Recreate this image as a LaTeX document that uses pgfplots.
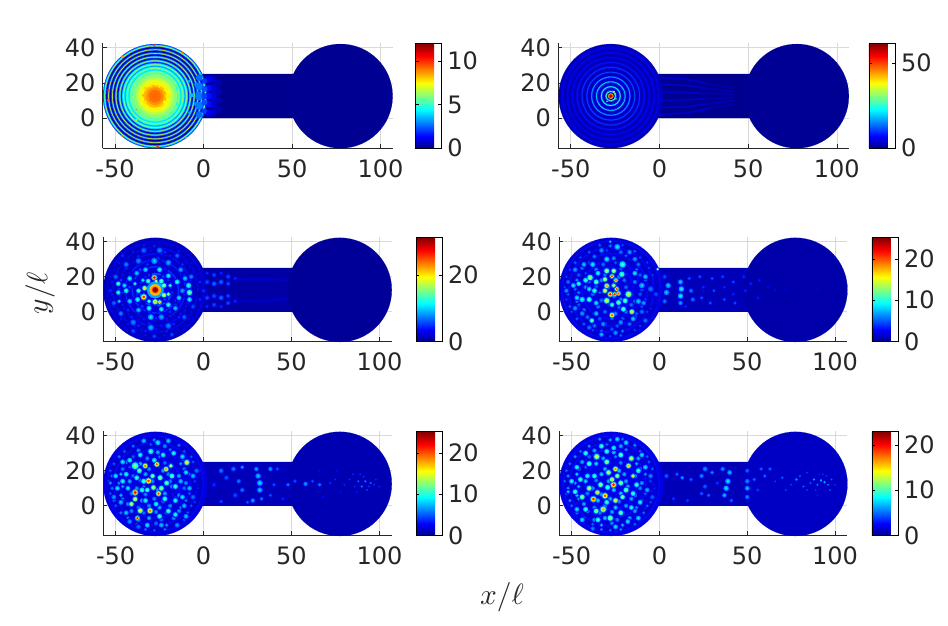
\documentclass[border=0pt]{standalone}
\usepackage{fontspec}
\setmainfont{DejaVu Sans}
\usepackage{pgfplots}
\usepackage{pgfplotstable}
\usetikzlibrary{calc}
\pgfplotsset{compat=1.18}
\pgfplotsset{/pgf/number format/assume math mode=true}
\definecolor{tk}{gray}{0.15}
\newcommand{\tkf}{\fontsize{18}{21}\selectfont}
\pgfplotsset{
 colormap={mjet}{rgb255(0pt)=(0,0,143); rgb255(7pt)=(0,0,255); rgb255(23pt)=(0,255,255); rgb255(39pt)=(255,255,0); rgb255(55pt)=(255,0,0); rgb255(63pt)=(128,0,0)},
 panel/.style n args={7}{% x y w h max cbticks cbshift
  at={(#1pt,#2pt)},anchor=south west,scale only axis,width=#3pt,height=#4pt,
  xmin=-57,xmax=107,ymin=-16.8,ymax=42.5,
  axis x line*=bottom,axis y line*=left,axis line style={-,color=tk,line width=0.7pt},
  xtick={-50,0,50,100},ytick={0,20,40},
  xticklabels={-50,0,50,100},yticklabels={0,20,40},
  tick align=inside,major tick length=3pt,tick style={color=tk,line width=0.5pt},
  grid=major,grid style={color=black!15,line width=0.5pt},
  tick label style={font=\tkf,text=tk},
  xticklabel style={yshift=-5pt},
  yticklabel style={xshift=-2pt},
  colormap name=mjet,
  point meta min=0,point meta max=#5,
  colorbar,
  colorbar style={at={($(parent axis.north east)+(#7pt,0pt)$)},anchor=north west,scale only axis,width=19.6pt,height=#4pt,
    ytick={#6},yticklabel pos=right,tick align=inside,major tick length=2.5pt,
    tick style={color=black,line width=0.4pt},
    axis line style={color=black,line width=0.6pt},
    yticklabel style={font=\tkf,text=tk,xshift=1pt}},
 },
 bp/.style 2 args={scatter,only marks,mark=*,
  point meta={\thisrow{v}*#2},
  scatter/use mapped color={draw=mapped color,fill=mapped color},
  visualization depends on={\thisrow{r}*#1*1.32 \as \rr},
  scatter/@pre marker code/.append style={/tikz/mark size=\rr},
  mark options={line width=0.1pt}},
 chan/.style={draw=none,fill=#1,forget plot},
 st/.style 2 args={no marks,color=#1,line width=#2pt,forget plot},
}
\newcommand{\blobs}[2]{%
 \addplot[bp={1.9}{#2*0.3}] table {#1};
 \addplot[bp={1.3}{#2*0.75}] table {#1};
 \addplot[bp={0.65}{#2}] table {#1};}
\definecolor{c0}{RGB}{0,0,143}\definecolor{c1}{RGB}{0,0,165}\definecolor{c2}{RGB}{0,0,185}
\definecolor{s0}{RGB}{0,0,175}\definecolor{s1}{RGB}{0,0,205}\definecolor{s2}{RGB}{0,0,225}
% ---- speckle in the left disc, panels 3 to 6
\pgfplotstableread[row sep=\\]{
x y r v\\
-34 38 0.8 7\\ -28 37.5 0.8 8\\ -21 38 0.8 6\\
-40 34 0.8 7\\ -30 35 0.8 6\\ -22 34 0.9 8\\ -14 34.5 0.8 7\\
-45 31 0.8 6\\ -37 31.5 0.9 8\\ -26 30.5 0.9 9\\ -19 32 0.8 7\\ -11 31 0.8 6\\
-48 28 0.8 7\\ -40 28 0.9 6\\ -32 27 0.9 8\\ -25 28 0.8 7\\ -12 27 0.9 8\\ -7 28 0.7 6\\
-51 24 0.8 6\\ -44 25 0.9 8\\ -36 24 0.9 9\\ -22 24.5 0.9 7\\ -13 24 0.8 8\\ -6 25 0.7 6\\
-53 20 0.7 6\\ -46 21 0.9 7\\ -42 22 0.8 6\\ -31 21 0.9 8\\ -23 20 0.9 9\\ -11 21 0.9 7\\ -4 21 0.7 6\\
-52 17 0.8 7\\ -47 18 0.8 9\\ -40 17 0.9 7\\ -33 18 0.9 9\\ -20 18 0.9 8\\ -14 17 0.9 9\\ -8 18 0.8 7\\
-54 14 0.7 6\\ -48 13 0.8 8\\ -42 14 0.9 9\\ -36 14.5 0.9 7\\ -29 14 0.9 8\\ -19 14 0.9 8\\ -10 13 0.9 8\\ -5 14 0.8 5\\
-52 10 0.8 7\\ -46 11 0.8 8\\ -38 10 0.9 8\\ -34 11 0.8 7\\ -26 9 0.9 9\\ -18 11 0.9 8\\ -11 10 0.9 7\\ -3 10 0.7 4\\
-53 7 0.7 6\\ -47 6 0.8 9\\ -41 7 0.9 7\\ -33 6.5 0.9 8\\ -22 7 0.9 9\\ -14 6 0.9 8\\ -8 7 0.8 6\\
-51 3 0.8 7\\ -46 4 0.8 7\\ -35 3 0.9 9\\ -28 4 0.9 8\\ -23 2.5 0.9 7\\ -16 4 0.9 8\\ -10 3 0.8 7\\ -5 2 0.7 5\\
-50 0 0.8 6\\ -43 1 0.9 8\\ -37 -1 0.9 7\\ -31 0 0.9 8\\ -25 -1 0.9 9\\ -19 0 0.9 8\\ -13 -1 0.8 7\\ -7 0 0.7 6\\
-47 -4 0.8 7\\ -41 -3 0.9 8\\ -34 -4 0.9 7\\ -27 -3.5 0.9 8\\ -21 -4 0.9 7\\ -14 -3 0.9 8\\ -9 -4 0.8 6\\
-43 -7 0.8 7\\ -37 -8 0.9 8\\ -31 -7 0.9 9\\ -24 -8 0.9 7\\ -17 -7 0.9 8\\ -11 -8 0.7 6\\
-38 -10.5 0.8 6\\ -33 -11 0.8 8\\ -27 -10 0.9 7\\ -21 -11 0.8 8\\ -14 -10.5 0.7 6\\
-33 -13.5 0.7 7\\ -28 -14 0.7 6\\ -22 -13.5 0.7 7\\
}\Fill
% ---- panel 1
\pgfplotstableread[row sep=\\]{
x y r v\\
77.4 12.5 29.6 0.05\\
-27.4 12.5 29.6 2\\ -27.4 12.5 29.1 4\\ -27.4 12.5 28.6 7\\ -27.4 12.5 28.2 2.6\\ -27.4 12.5 27.8 0.4\\ -27.4 12.5 27 2.6\\
-27.4 12.5 26.5 7.2\\ -27.4 12.5 26.1 2.6\\ -27.4 12.5 25.7 0.4\\ -27.4 12.5 24.9 2.6\\ -27.4 12.5 24.4 7.2\\ -27.4 12.5 24 2.6\\
-27.4 12.5 23.6 0.5\\ -27.4 12.5 22.8 3\\ -27.4 12.5 22.3 7\\ -27.4 12.5 21.9 3\\ -27.4 12.5 21.5 0.7\\ -27.4 12.5 20.7 3.2\\
-27.4 12.5 20.2 6.8\\ -27.4 12.5 19.8 3.6\\ -27.4 12.5 19.3 1.6\\ -27.4 12.5 18.7 4\\ -27.4 12.5 18.1 6.4\\ -27.4 12.5 17.7 4.6\\
-27.4 12.5 17.2 3.2\\ -27.4 12.5 16.6 4.6\\ -27.4 12.5 16 6\\ -27.4 12.5 15.5 4.8\\ -27.4 12.5 15 4\\ -27.4 12.5 14.5 5\\
-27.4 12.5 14 5.8\\ -27.4 12.5 13.2 5.4\\ -27.4 12.5 12.5 6\\ -27.4 12.5 11.5 6\\ -27.4 12.5 10.8 6.4\\ -27.4 12.5 10 6.8\\
-27.4 12.5 9 7.2\\ -27.4 12.5 8 7.6\\ -27.4 12.5 6.5 8.3\\ -27.4 12.5 5 8.8\\ -27.4 12.5 3.5 9.2\\ -27.4 12.5 2 9.3\\
-21.5 16 0.9 7.6\\ -33 17 0.9 8\\ -22 9 1 7.4\\ -33 9 1 7.8\\ -27 19 0.8 7.6\\ -36 12 0.7 7\\ -19 12.5 0.7 6.4\\ -38 5 0.4 9\\ -16 20 0.4 7\\
-30 7 0.9 8.2\\ -24 7 0.8 8\\ -34 13 0.7 8.4\\ -21 12.5 0.7 7.6\\ -30 18 0.7 7.8\\ -25 18 0.7 7.6\\ -40 12 0.6 6.2\\ -15 8 0.6 4.4\\ -15 17 0.6 4.4\\ -39 19 0.5 6.4\\ -38 -1 0.5 7\\
-53.8 16 0.7 10\\ -54 10 0.6 9.5\\ -28 41.4 0.6 10\\ -26 -16 0.6 10\\ -12 37 0.6 9\\ -46 35 0.6 9\\ -46 -10 0.6 9\\ -10 -11 0.5 9\\
-4 19 1.2 3.2\\ -3 14 1.4 2.8\\ -4 8 1.2 3.2\\ -7 13 1.2 3.6\\ -8 3 0.8 3.4\\ -8 21 0.8 3.4\\
-2.5 2 1.9 2.6\\ -2.5 7 2.2 2.8\\ -2.5 12.5 2.4 2.8\\ -2.5 18 2.2 2.8\\ -2.5 23 1.9 2.6\\
8 5 2.2 0.45\\ 8 10 2.2 0.5\\ 8 15 2.2 0.5\\ 8 20 2.2 0.45\\
5 3 2 0.8\\ 5 8 2.2 0.9\\ 5 12.5 2.2 1\\ 5 17 2.2 0.9\\ 5 22 2 0.8\\
2.5 3 1.9 1.3\\ 2.5 8 2 1.5\\ 2.5 12.5 2 1.5\\ 2.5 17 2 1.5\\ 2.5 22 1.9 1.3\\
0.5 4 1.5 2\\ 0.5 9 1.6 2.3\\ 0.5 12.5 1.6 2.1\\ 0.5 16.5 1.6 2.3\\ 0.5 21 1.5 2\\
}\Pone
% ---- panel 2
\pgfplotstableread[row sep=\\]{
x y r v\\
77.4 12.5 29.6 0.3\\
-27.4 12.5 29.6 2.5\\ -27.4 12.5 28 4.5\\ -27.4 12.5 27.6 6.5\\ -27.4 12.5 27.1 4\\ -27.4 12.5 26.5 2\\
-27.4 12.5 25.3 4\\ -27.4 12.5 24.85 6.5\\ -27.4 12.5 24.3 4\\ -27.4 12.5 23.7 2\\
-27.4 12.5 22.5 4\\ -27.4 12.5 22.1 7\\ -27.4 12.5 21.5 4\\ -27.4 12.5 20.9 2\\
-27.4 12.5 19.7 4.5\\ -27.4 12.5 19.3 8\\ -27.4 12.5 18.7 4.5\\ -27.4 12.5 18.1 2\\
-27.4 12.5 17 5\\ -27.4 12.5 16.6 10\\ -27.4 12.5 16 5\\ -27.4 12.5 15.4 2\\
-27.4 12.5 14.2 6\\ -27.4 12.5 13.8 12\\ -27.4 12.5 13.3 6\\ -27.4 12.5 12.7 2\\
-27.4 12.5 11.5 7\\ -27.4 12.5 11.1 17\\ -27.4 12.5 10.5 7\\ -27.4 12.5 9.9 2.5\\
-27.4 12.5 8.7 8\\ -27.4 12.5 8.3 21\\ -27.4 12.5 7.8 8\\ -27.4 12.5 7.2 2.5\\
-27.4 12.5 6 9\\ -27.4 12.5 5.6 24\\ -27.4 12.5 5 9\\ -27.4 12.5 4.4 2.5\\
-27.4 12.5 3.3 12\\ -27.4 12.5 2.9 28\\ -27.4 12.5 2.3 8\\ -27.4 12.5 1.8 3\\
-27.4 12.5 1.45 38\\ -27.4 12.5 1.15 52\\ -27.4 12.5 0.6 60\\
-25.6 15 0.5 36\\ -24.9 13.8 0.4 30\\ -24.5 11 0.4 25\\ -29.5 9.5 0.4 25\\
}\Ptwo
% ---- panel 3
\pgfplotstableread[row sep=\\]{
x y r v\\
77.4 12.5 29.6 0.3\\
-27.4 12.5 29.6 1.5\\ -27.4 12.5 27.6 3.5\\ -27.4 12.5 27 1.5\\ -27.4 12.5 24.3 3.8\\ -27.4 12.5 23.6 1.5\\ -27.4 12.5 20.8 4\\ -27.4 12.5 20 1.8\\
-27.4 12.5 17.3 4.5\\ -27.4 12.5 16.5 2\\ -27.4 12.5 13.5 5\\ -27.4 12.5 12.6 2.2\\ -27.4 12.5 9.5 6\\ -27.4 12.5 8.6 3\\
}\Pthreebase
\pgfplotstableread[row sep=\\]{
x y r v\\
-28 19.5 0.9 29\\ -27 17.5 0.7 18\\ -31.5 17.5 0.9 15\\ -24 17.5 0.9 16\\ -33.5 13.5 0.9 20\\ -22.5 15 0.9 17\\ -22.5 9.5 0.9 19\\ -34 8.5 1 27\\
-27.5 5.7 1 21\\ -25 5.5 0.8 22\\ -31 6 0.8 15\\ -20 10 0.8 16\\ -19 15 0.8 13\\ -34.5 18 0.8 12\\ -37 12 0.9 14\\ -37.5 7 1 13\\ -39 16 0.8 12\\
-31 2 1 13\\ -24 1.5 1 12\\ -20 4 1 13\\ -14 8 1 11\\ -15 17 1 13\\ -20 20.5 1 12\\ -25 24 1 13\\ -33 24 1 11\\ -38 22 1 10\\ -42 19 1 12\\ -44 12 1 13\\
-42 6 1 11\\ -48.5 16 0.9 14\\ -48.5 11 0.9 13\\ -48 6 0.8 10\\ -45 15 0.9 11\\ -37 1 1 10\\ -30 -3 1.2 11\\ -24 -3 1.2 9\\ -16 2 1 10\\ -12 12 1 9\\
-8.5 15 1.1 13\\ -8 11 1.1 15\\ -8 7 1 12\\ -10.5 19 1 10\\ -7 20 1 8\\ -13 24 1 9\\ -20 28 1.2 9\\ -28 29 1.3 10\\ -37 29 1.2 8\\ -44 27 1 8\\ -50 20 1 7\\
-51 5 1 7\\ -47 -1 1 8\\ -40 -6 1.2 8\\ -30 -9 1.3 9\\ -20 -8 1.2 8\\ -11 -3 1 7\\ -6 3 1 6\\ -15 32 1 7\\ -25 35 1.2 8\\ -34 35 1.2 7\\ -28 -14 0.9 6\\
-40 -11 1 6\\ -18 -13 0.9 6\\ -46 32 0.9 5\\ -53 12 0.9 5\\
-27.5 12.5 2.5 29\\ -27.5 12.5 1.6 31\\
2 3 0.8 5\\ 2 8 1 6\\ 2 17 1 6\\ 2 22 0.8 5\\ 6 4 0.9 6\\ 6 9 1 6\\ 6 16 1 7\\ 6 21 0.9 6\\ 10 3 0.8 5\\ 10 8 1 7\\ 10 17 1 7\\ 10 22 0.8 5\\
14 5 0.9 6\\ 14 9 0.9 6\\ 14 16 0.9 6\\ 14 20 0.9 6\\ 18 6 0.8 5\\ 18 19 0.8 5\\ 0 12 1 5\\ -2 17 0.8 5\\ -2 7 0.8 5\\
}\Pthree
% ---- panel 4
\pgfplotstableread[row sep=\\]{
x y r v\\
77.4 12.5 29.6 0.7\\
-27.4 12.5 29.6 1.8\\ -27.4 12.5 28 3\\ -27.4 12.5 27.3 1.5\\ -27.4 12.5 24.5 3\\ -27.4 12.5 23.5 1.5\\ -27.4 12.5 21 3\\ -27.4 12.5 20 1.5\\ -27.4 12.5 17 3\\ -27.4 12.5 16 1.8\\ -27.4 12.5 13 3\\ -27.4 12.5 12 2\\
}\Pfourbase
\pgfplotstableread[row sep=\\]{
x y r v\\
-28 10 0.9 22\\ -25.5 10 0.8 22\\ -23.3 10.5 0.8 20\\ -24.3 13 0.8 21\\ -30 14.8 0.9 18\\ -31 12 0.9 16\\ -26 15 0.8 17\\ -27 20.3 0.8 21\\ -24.8 18 0.8 19\\ -31 18.5 0.9 15\\
-30 23.3 1 14\\ -26 23.3 0.9 15\\ -21.4 21.4 1.1 12\\ -17.6 10 1.2 15\\ -19.5 6.3 1 12\\ -30 6.3 1.1 15\\ -23.3 5.3 1 12\\ -27 4 0.9 11\\ -27 -1.9 0.9 20\\ -20.5 1.5 1 12\\
-15.7 0 0.9 17\\ -38.5 -5 0.9 12\\ -39.5 19.5 1.1 14\\ -42 18 1 11\\ -36 17 1 12\\ -35 22 1 10\\ -37 12 1 11\\ -40 13 1 9\\ -46 16 0.9 11\\ -49 15 1 9\\ -44 7 1.1 10\\ -40 7 1 12\\
-36 5 1 9\\ -47 8 1 9\\ -53 12 0.9 7\\ -52 17 0.9 6\\ -30 30 1.1 9\\ -21 27 1.3 11\\ -14 22 1 9\\ -10 15 1.2 8\\ -12 6 1.1 8\\ -9 5 1 7\\ -8 20 1 8\\ -14 30 1 7\\ -38 27 1.1 9\\ -43 27 1 8\\
-48 24 1 7\\ -24 37 1.2 9\\ -28 40 0.6 8\\ -33 35 1 7\\ -17 34 1 7\\ -44 -1 1 7\\ -36 -1 1 8\\ -32 -7 1 7\\ -22 -6 1 7\\ -15 -4 1 8\\ -25 -12 1 7\\ -33 -13 0.9 8\\ -40 -9 1 6\\ -48 2 1 7\\
-10 0 1 6\\ -8 -5 1 6\\ -1 24.3 0.5 15\\ -5 13 1.2 6\\ -2 10 1 5\\
3 20 0.9 5\\ 5 15 1.1 8\\ 4 11 1.1 8\\ 3 6 0.9 6\\ 12 17 1 8\\ 12.5 13 1.1 9.5\\ 12 9 1.1 9\\ 12 5 0.9 7\\ 17 19 0.8 5\\ 18 12 0.9 6\\ 19 7 0.9 6\\ 15 3 0.7 4\\ 23 20 0.8 5\\ 25 14 0.8 4\\ 24 8 0.8 5\\
30 19 0.7 5\\ 31 12 0.7 5\\ 29 5 0.8 5\\ 36 20 0.7 5\\ 37 14 0.7 4\\ 37 7 0.7 5\\ 42 17 0.7 5\\ 42 10 0.7 4\\ 43 5 0.7 5\\ 48 20 0.8 4\\ 49 12 0.7 4\\ 52 16 0.7 4\\ 57 18 0.7 3.5\\ 56 8 0.7 3.5\\
62 14 0.5 3\\ 66 12.5 0.5 3\\ 72 13 0.5 2.5\\ 80 13 0.4 2.5\\ 90 13 0.4 2.5\\
}\Pfour
% ---- panel 5
\pgfplotstableread[row sep=\\]{
x y r v\\
77.4 12.5 29.6 0.9\\
-27.4 12.5 29.6 2\\ -27.4 12.5 27.5 3\\ -27.4 12.5 26.8 1.5\\ -27.4 12.5 24 3\\ -27.4 12.5 23.2 1.5\\ -27.4 12.5 20 3\\ -27.4 12.5 19 1.8\\ -27.4 12.5 15 3\\ -27.4 12.5 14 2\\
}\Pfivebase
\pgfplotstableread[row sep=\\]{
x y r v\\
-38.9 7.6 1 23\\ -38.9 3.8 0.9 16\\ -41 1 0.9 15\\ -31.3 14.2 1 21\\ -25.6 7 0.9 20\\ -28.5 10.4 0.9 16\\ -26.6 23.7 0.9 20\\ -33.2 22.8 0.9 19\\ -21.3 20.9 0.9 18\\ -18.6 22.8 0.8 15\\
-38.9 22.8 1.4 13\\ -36.5 20 1 12\\ -30.4 -2.8 1 19\\ -36 -2.8 1 16\\ -37.6 -7 0.8 22\\ -24.7 16 1 13\\ -34 14 1 12\\ -9.5 24.7 1 16\\ -29 17 0.9 13\\ -32 9 0.9 12\\ -24 10 1 13\\ -21 13 1 12\\
-18 17 1 12\\ -16 11 1 11\\ -22 4 1 11\\ -27 1 1 10\\ -33 3 1 10\\ -43 10 1 9\\ -46 14 1 10\\ -50 17 1 9\\ -49 10 1 9\\ -53 13 0.8 7\\ -44 18 1 10\\ -42 26 1 10\\ -46 25 1 9\\ -36 29 1 10\\ -30 31 1.1 11\\
-23 29 1 10\\ -17 30 1 10\\ -12 28 1 9\\ -26 36 1.1 9\\ -34 37 1 8\\ -20 37 1 8\\ -10 19 1 9\\ -6 17 1 8\\ -13 14 1 8\\ -8 10 1 8\\ -12 5 1 9\\ -16 3 1 10\\ -11 0 1 8\\ -6 5 1 6\\ -20 -3 1 11\\ -25 -6 1 11\\
-16 -5 1 10\\ -10 -6 1 8\\ -32 -11 1 9\\ -24 -11 1 8\\ -37 -12 1 6\\ -44 -4 1 8\\ -47 2 1 8\\ -42 -9 1 7\\ -51 5 1 7\\ -15 -11 1 7\\ -28 26 1 10\\ -38 16 1 11\\ -35 9 1 11\\ -4 20 1 6\\
6 12 1 4\\ 10 20 1 6\\ 13 16 1 5\\ 17 21 1 6\\ 22 22 0.8 7\\ 20 14 0.9 6\\ 22 9 0.9 6\\ 18 6 1 5\\ 10 2.5 0.8 5\\ 25 2 0.8 5\\ 28 3 0.9 7\\ 31 17 1.1 8\\ 32 13 1.2 8.5\\ 32 9 1.1 8\\ 30 21 0.9 7\\ 33 4 0.8 6\\
38 21 0.9 7\\ 40 12 0.8 5\\ 38 6 0.8 5\\ 42 21 0.8 5\\ 48 12 0.8 6\\ 45 4 0.8 4\\ 52 14 0.8 5\\ 58 12.5 0.9 7\\ 62 14 0.7 5\\ 66 12 0.8 6\\ 72 13 0.6 4\\ 75 15 0.5 4\\ 80 12 0.5 4\\ 85 18 0.5 4\\ 88 14 0.5 5.5\\ 90 11 0.5 6\\
92 14 0.5 6\\ 93 9 0.5 4.5\\ 95 13 0.5 5.5\\ 97 12 0.4 4.5\\ 89 18 0.5 4\\ 87 8 0.5 3.5\\ 66 20 0.6 3\\ 68 5 0.6 3\\ 100 11 0.4 4\\ 83 15 0.5 4\\ 86 11 0.5 4\\ 91 16.5 0.4 4.5\\ 94 11 0.4 4.5\\ 98 15 0.4 4\\ 78 8 0.5 3\\ 76 20 0.5 3\\
}\Pfive
% ---- panel 6
\pgfplotstableread[row sep=\\]{
x y r v\\
77.4 12.5 29.6 1.2\\
-27.4 12.5 29.6 2\\ -27.4 12.5 27.5 2.8\\ -27.4 12.5 26.8 1.5\\ -27.4 12.5 24 2.8\\ -27.4 12.5 23.2 1.5\\ -27.4 12.5 20 2.8\\ -27.4 12.5 19 1.8\\ -27.4 12.5 15 2.8\\ -27.4 12.5 14 2\\
}\Psixbase
\pgfplotstableread[row sep=\\]{
x y r v\\
-37.6 3.8 1 20\\ -31 5.7 1 19\\ -26.2 12 1 20\\ -27 15 0.9 15\\ -25 21 0.9 17\\ -17.6 22.8 0.9 16\\ -15 17 0.8 15\\ -35.7 28 1.1 14\\ -40 10 1 13\\ -33.5 12 1 12\\ -32 -2 1.1 16\\ -25 3 0.9 15\\ -21 5 0.9 12\\ -35.3 7.6 0.9 15\\
-29 19 1 13\\ -22 13 1 12\\ -19 9 1 12\\ -15 7 1 10\\ -13 12 1 10\\ -16 27 1 13\\ -22 29 1 11\\ -30 25 1 12\\ -40 24 1 11\\ -42 30 1 10\\ -47 22 1 9\\ -50 14 1 9\\ -45 15 1 10\\ -48 8 1 10\\ -44 5 1 12\\ -52 8 0.8 7\\ -42 -2 1 10\\
-36 -3 1 12\\ -28 -7 1.1 12\\ -22 -4 1 11\\ -16 -1 1 9\\ -11 2 1 9\\ -12 -7 1 8\\ -35 -8 1 10\\ -25 -12 1 8\\ -44 -8 1 8\\ -47 -2 1 8\\ -33 34 1 10\\ -26 33 1 9\\ -19 36 1 8\\ -10 29 1 8\\ -8 22 1 8\\ -5 17 1 6\\ -7 9 1 7\\ -4 5 1 5\\
-37 17 1 10\\ -30 31 1 10\\ -24 38 1 8\\ -12 20 1 10\\ -24 17 0.9 13\\ -29.5 10.5 1 11\\ -41 17 1 9\\ -30 2 1 10\\ -18 -9 1 8\\ -38 -13 0.9 6\\
4 17 0.9 5\\ 10 18 0.8 5\\ 13 16 0.8 6.5\\ 18 15 0.8 5\\ 24 17 0.9 6\\ 26 21 1 6\\ 30 19 0.8 6\\ 26 11 0.9 5\\ 24 7 0.8 5\\ 28 6 0.8 5\\ 36 21 0.9 6\\ 40 19 1 7\\ 39 14 1.1 8\\ 38 10 1.1 8\\ 37 6 0.9 7\\ 41 3 0.8 5\\ 33 13 0.8 4\\ 16 3 0.8 4\\ 8 4 0.8 4\\
50 20 0.9 5\\ 50 14 1 6\\ 50 10 1 7\\ 50 5 0.9 6\\ 54 15 0.8 5\\ 58 21 0.8 5\\ 60 17 0.8 5\\ 63 21 0.8 5\\ 56 9 0.8 4\\
70 16 0.6 5\\ 66 14 0.5 4\\ 72 9 0.6 4\\ 78 15 0.6 6\\ 80 17 0.5 5\\ 82 11 0.5 5\\ 86 13 0.5 5\\ 84 19 0.5 4\\ 88 15 0.5 6.5\\ 90 12 0.5 5.5\\ 92 14.5 0.5 7\\ 94 13.5 0.5 7\\ 96 12 0.4 6\\ 98 15 0.4 5\\ 97 9 0.4 5\\ 93 18 0.4 4\\ 90 6 0.4 3.5\\ 75 12 0.5 4\\ 84 9 0.5 4\\ 89 9 0.4 4\\ 91 18 0.4 3.5\\ 95 17 0.4 4\\ 100 12 0.4 4\\
}\Psix
\begin{document}
\begin{tikzpicture}
\path[use as bounding box] (0,0) rectangle (711pt,468.75pt);
% panel 1
\begin{axis}[panel={77.0}{357.75}{217.7}{78.75}{12.07}{0,5,10}{8.2}]
\addplot[chan=c0] coordinates {(-1,0)(51,0)(51,25)(-1,25)(-1,0)};
\addplot[bp={1}{1}] table {\Pone};
\end{axis}
% panel 2
\begin{axis}[panel={418.7}{357.75}{218.25}{78.75}{61.8}{0,50}{6.2}]
\addplot[chan=c0] coordinates {(-1,0)(51,0)(51,25)(-1,25)(-1,0)};
\addplot[bp={1}{1}] table {\Ptwo};
\addplot[st={s0}{1.3}] coordinates {(0,2)(15,3)(30,6)(42,8)};
\addplot[st={s0}{1.3}] coordinates {(0,6)(15,6.5)(30,8.5)(42,10)};
\addplot[st={s0}{1.3}] coordinates {(0,10)(15,10.5)(30,11)(42,11.5)};
\addplot[st={s0}{1.3}] coordinates {(0,15)(15,14.5)(30,14)(42,13.5)};
\addplot[st={s0}{1.3}] coordinates {(0,19)(15,18.5)(30,16.5)(42,15)};
\addplot[st={s0}{1.3}] coordinates {(0,23)(15,22)(30,19)(42,17)};
\addplot[st={s1}{1.1}] coordinates {(0,2)(15,3)(26,5)};
\addplot[st={s1}{1.1}] coordinates {(0,6)(15,6.5)(26,8)};
\addplot[st={s1}{1.1}] coordinates {(0,10)(15,10.5)(26,11)};
\addplot[st={s1}{1.1}] coordinates {(0,15)(15,14.5)(26,14)};
\addplot[st={s1}{1.1}] coordinates {(0,19)(15,18.5)(26,17)};
\addplot[st={s1}{1.1}] coordinates {(0,23)(15,22)(26,20)};
\end{axis}
% panel 3
\begin{axis}[panel={77.5}{212.8}{216.3}{78}{31.5}{0,20}{9.7}]
\addplot[chan=c1] coordinates {(-1,0)(51,0)(51,25)(-1,25)(-1,0)};
\addplot[bp={1}{1}] table {\Pthreebase};
\addplot[st={s0}{2.4}] coordinates {(15,18)(30,18.5)(50,17.5)(72,14.5)};
\addplot[st={s0}{2.4}] coordinates {(15,7)(30,6.5)(50,7.5)(72,10.5)};
\addplot[st={s1}{1.4}] coordinates {(18,18.5)(35,19)(55,17)};
\addplot[st={s1}{1.4}] coordinates {(18,6.5)(35,6)(55,8)};
\blobs{\Fill}{0.6}
\blobs{\Pthree}{1}
\end{axis}
% panel 4
\begin{axis}[panel={419.5}{212.8}{216}{78}{25.3}{0,10,20}{9.9}]
\addplot[chan=c2] coordinates {(-1,0)(51,0)(51,25)(-1,25)(-1,0)};
\addplot[bp={1}{1}] table {\Pfourbase};
\blobs{\Fill}{0.75}
\blobs{\Pfour}{1}
\end{axis}
% panel 5
\begin{axis}[panel={77.5}{67.3}{216.3}{78}{25.3}{0,10,20}{9.7}]
\addplot[chan=c2] coordinates {(-1,0)(51,0)(51,25)(-1,25)(-1,0)};
\addplot[bp={1}{1}] table {\Pfivebase};
\blobs{\Fill}{0.85}
\blobs{\Pfive}{1}
\end{axis}
% panel 6
\begin{axis}[panel={419.5}{67.3}{216}{78}{23}{0,10,20}{9.9}]
\addplot[chan=c2] coordinates {(-1,0)(51,0)(51,25)(-1,25)(-1,0)};
\addplot[bp={1}{1}] table {\Psixbase};
\blobs{\Fill}{0.85}
\blobs{\Psix}{1}
\end{axis}
\node[scale=2.2,text=black!85] at (376.5pt,21pt) {$x/\ell$};
\node[scale=2.2,text=black!85,rotate=90] at (30pt,249pt) {$y/\ell$};
\end{tikzpicture}
\end{document}
